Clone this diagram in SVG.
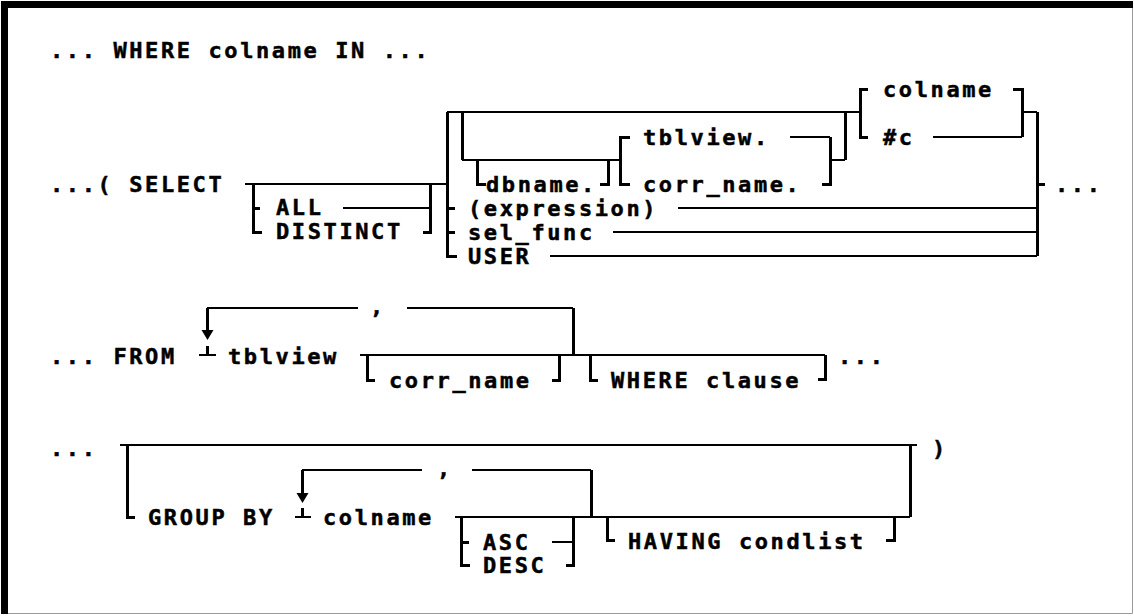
<svg xmlns="http://www.w3.org/2000/svg" width="1134" height="616" viewBox="0 0 1134 616">
<style>
.t{font-family:"DejaVu Sans Mono","Liberation Mono",monospace;font-weight:bold;font-size:22px;letter-spacing:2.6px;fill:#000;stroke:#000;stroke-width:0.5px}
.c{fill:none;stroke:#000;stroke-width:2;shape-rendering:crispEdges}
.v{fill:none;stroke:#000;stroke-width:3;shape-rendering:crispEdges}
.ah{fill:#000}
</style>
<rect x="0" y="0" width="1134" height="616" fill="#fff"/>
<g id="frame">
<rect x="1" y="1" width="1132" height="7" fill="#000"/>
<rect x="1" y="1" width="7" height="613" fill="#000"/>
<path d="M1132.5,8V613.5H8" fill="none" stroke="#9a9a9a" stroke-width="1"/>
</g>
<g id="connectors">
<!-- SELECT row -->
<path class="c" d="M245,184H447"/>
<path class="v" d="M253,184V232H262M253,208H260"/>
<path class="c" d="M343,208H430"/>
<path class="v" d="M430,184V232H423"/>
<path class="v" d="M457,256H447V112M447,208H455M447,232H455"/>
<path class="c" d="M447,112H860"/>
<path class="v" d="M462,112V160"/>
<path class="c" d="M462,160H620"/>
<path class="v" d="M477,160V184H486M608,160V184H600"/>
<path class="v" d="M630,137H620V184H630"/>
<path class="c" d="M790,137H830"/>
<path class="v" d="M830,137V184H822"/>
<path class="c" d="M830,160H845"/>
<path class="v" d="M845,160V112"/>
<path class="v" d="M868,89H860V137H868"/>
<path class="c" d="M933,137H1022"/>
<path class="v" d="M1022,137V89H1013"/>
<path class="c" d="M1022,112H1037"/>
<path class="v" d="M1037,112V256M1037,184H1045"/>
<path class="c" d="M678,208H1037M613,232H1037M550,256H1037"/>
<!-- FROM row -->
<path class="c" d="M207,308H358M407,308H573"/>
<path class="v" d="M573,308V355M207,308V331"/>
<polygon class="ah" points="201.5,330 213.5,330 207.5,340"/>
<path class="c" d="M199,355H216"/>
<path class="v" d="M207,346V355"/>
<path class="c" d="M360,355H825"/>
<path class="v" d="M367,355V380H375M559,355V380H552M590,355V380H598M825,355V379H818"/>
<!-- GROUP BY row -->
<path class="c" d="M120,445H917"/>
<path class="v" d="M127,445V517H135M910,445V517"/>
<path class="c" d="M302,470H422M472,470H591"/>
<path class="v" d="M591,470V517M302,470V494"/>
<polygon class="ah" points="296.5,493 308.5,493 302.5,503"/>
<path class="c" d="M295,517H311"/>
<path class="v" d="M302,508V517"/>
<path class="c" d="M455,517H910"/>
<path class="v" d="M461,517V565H470M461,542H469M573,517V565H566"/>
<path class="c" d="M552,542H573"/>
<path class="v" d="M607,517V540H615M894,517V540H886"/>
</g>
<g id="n-title"><text class="t" x="50" y="58">... WHERE colname IN ...</text></g>
<g id="n-select"><text class="t" x="50" y="192">...( SELECT</text></g>
<g id="n-all"><text class="t" x="276" y="215">ALL</text></g>
<g id="n-distinct"><text class="t" x="276" y="239">DISTINCT</text></g>
<g id="n-dbname"><text class="t" x="486" y="192">dbname.</text></g>
<g id="n-tblview-dot"><text class="t" x="643" y="145">tblview.</text></g>
<g id="n-corrname-dot"><text class="t" x="643" y="192">corr_name.</text></g>
<g id="n-colname1"><text class="t" x="883" y="97">colname</text></g>
<g id="n-hashc"><text class="t" x="883" y="145">#c</text></g>
<g id="n-expression"><text class="t" x="468" y="216">(expression)</text></g>
<g id="n-selfunc"><text class="t" x="468" y="240">sel_func</text></g>
<g id="n-user"><text class="t" x="468" y="264">USER</text></g>
<g id="n-dots1"><text class="t" x="1055" y="192">...</text></g>
<g id="n-from"><text class="t" x="50" y="364">... FROM</text></g>
<g id="n-comma1"><text class="t" x="370" y="314">,</text></g>
<g id="n-tblview"><text class="t" x="228" y="364">tblview</text></g>
<g id="n-corrname"><text class="t" x="389" y="388">corr_name</text></g>
<g id="n-where"><text class="t" x="611" y="388">WHERE clause</text></g>
<g id="n-dots2"><text class="t" x="838" y="364">...</text></g>
<g id="n-dots3"><text class="t" x="50" y="456">...</text></g>
<g id="n-paren"><text class="t" x="932" y="456">)</text></g>
<g id="n-groupby"><text class="t" x="148" y="525">GROUP BY</text></g>
<g id="n-comma2"><text class="t" x="437" y="476">,</text></g>
<g id="n-colname2"><text class="t" x="323" y="525">colname</text></g>
<g id="n-asc"><text class="t" x="483" y="550">ASC</text></g>
<g id="n-desc"><text class="t" x="483" y="573">DESC</text></g>
<g id="n-having"><text class="t" x="628" y="549">HAVING condlist</text></g>
</svg>
